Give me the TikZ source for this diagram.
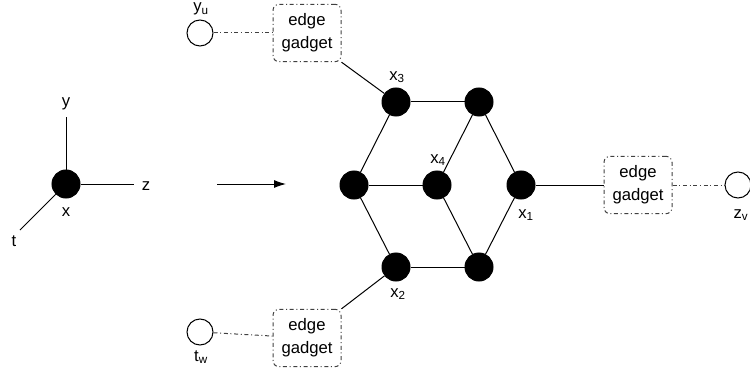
\documentclass[tikz,border=0pt]{standalone}
\usepackage{fontspec}
\setmainfont{Liberation Sans}
\usetikzlibrary{positioning,arrows.meta}

\tikzset{every picture/.style={line width=0.75pt}}
\tikzset{
	vertex/.style={circle,fill=black,draw=black,inner sep=0pt,minimum size=21pt},
	terminal/.style={circle,draw=black,inner sep=0pt,minimum size=19.5pt},
	gadget/.style={draw=black!75,dash dot,rounded corners=4.5pt,minimum width=51pt,minimum height=43pt,inner sep=0pt,align=center,font=\fontsize{12.5}{17}\selectfont},
	lbl/.style={inner sep=0pt,font=\fontsize{12.5}{14}\selectfont},
	link/.style={draw=black!75,dash dot}
}

\begin{document}
\begin{tikzpicture}[x=0.75pt,y=0.75pt,yscale=-1,xscale=1]
		\useasboundingbox (0,0) rectangle (750,385);

		%vertex x and its four sides
		\node [vertex] (v) at (66,184) {};
		\coordinate (vy) at (66,117);
		\coordinate (vz) at (134,184);
		\coordinate (vt) at (20,230);
		\draw (v) -- (vy);
		\draw (v) -- (vz);
		\draw (v) -- (vt);
		\node [lbl] (ly) at (66,104) {y};
		\node [lbl] (lz) at (146,186) {z};
		\node [lbl] (lt) at (14,241) {t};
		\node [lbl] (lx) at (66,212) {x};

		%arrow
		\coordinate (a1) at (217,184);
		\coordinate (a2) at (286,184);
		\draw [-{Latex[length=9pt,width=6pt]}] (a1) -- (a2);

		%hexagon
		\node [vertex] (x3) at (396,102) {};
		\node [vertex] (tr) at (479,102) {};
		\node [vertex] (lv) at (354,185) {};
		\node [vertex] (x4) at (437,185) {};
		\node [vertex] (x1) at (521,185) {};
		\node [vertex] (x2) at (396,267) {};
		\node [vertex] (br) at (479,267) {};

		\draw (x3) -- (tr);
		\draw (x3) -- (lv);
		\draw (tr) -- (x4);
		\draw (tr) -- (x1);
		\draw (lv) -- (x4);
		\draw (lv) -- (x2);
		\draw (x4) -- (br);
		\draw (x1) -- (br);
		\draw (x2) -- (br);

		\node [lbl] (lx3) at (397,77) {x\textsubscript{3}};
		\node [lbl] (lx4) at (438,160) {x\textsubscript{4}};
		\node [lbl] (lx1) at (526,215) {x\textsubscript{1}};
		\node [lbl] (lx2) at (398,294) {x\textsubscript{2}};

		%edge gadgets
		\node [gadget] (topg) at (307,33) {edge\\gadget};
		\node [gadget] (rightg) at (638,185) {edge\\gadget};
		\node [gadget] (botg) at (307,338) {edge\\gadget};

		\node [terminal] (yu) at (200,33) {};
		\node [terminal] (zv) at (738,185) {};
		\node [terminal] (tw) at (200,332) {};

		\node [lbl] (lyu) at (201,9) {y\textsubscript{u}};
		\node [lbl] (lzv) at (741,215) {z\textsubscript{v}};
		\node [lbl] (ltw) at (201,357) {t\textsubscript{w}};

		\draw [link] (yu) -- (topg);
		\draw [link] (rightg) -- (zv);
		\draw [link] (tw) -- (botg);
		\draw (topg.south east) -- (x3);
		\draw (botg.north east) -- (x2);
		\draw (x1) -- (rightg);

\end{tikzpicture}
\end{document}
